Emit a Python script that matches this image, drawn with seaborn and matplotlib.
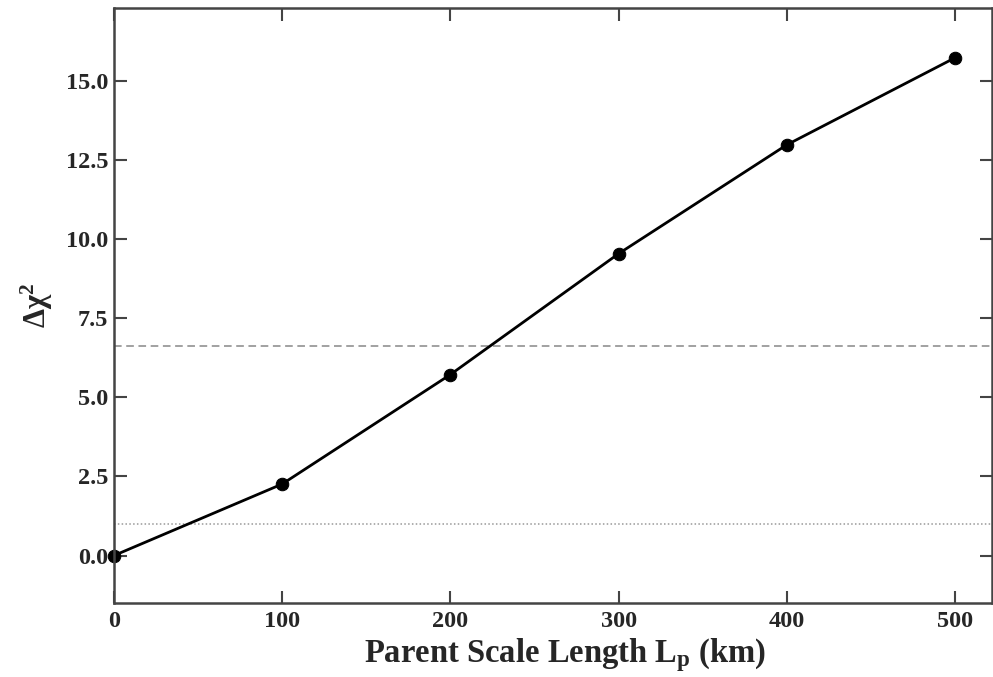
import matplotlib
matplotlib.use("Agg")
import matplotlib.pyplot as plt
import seaborn as sns
import pandas as pd

# Data
scale_length = [0, 100, 200, 300, 400, 500]
delta_chi2 = [0.0, 2.26, 5.72, 9.54, 12.98, 15.73]
dashed_level = 6.63
dotted_level = 1.0
x_ticks = [0, 100, 200, 300, 400, 500]
y_ticks = [0.0, 2.5, 5.0, 7.5, 10.0, 12.5, 15.0]

sns.set_style("ticks")
plt.rcParams['font.family'] = ['Liberation Serif', 'DejaVu Serif']
plt.rcParams['mathtext.fontset'] = 'custom'
plt.rcParams['mathtext.rm'] = 'Liberation Serif:bold'
plt.rcParams['mathtext.it'] = 'Liberation Serif:bold'
plt.rcParams['mathtext.bf'] = 'Liberation Serif:bold'

df = pd.DataFrame({"L": scale_length, "chi": delta_chi2})

fig = plt.figure(figsize=(9.93, 6.77), dpi=100)
ax = fig.add_axes([0.1148, 0.1093, 0.8842, 0.8787])

ax.axhline(dashed_level, color="#888888", lw=1.1, ls=(0, (5, 3)))
ax.axhline(dotted_level, color="#999999", lw=1.1, ls=(0, (1, 1.5)))

sns.lineplot(data=df, x="L", y="chi", ax=ax, color="black", lw=2,
             marker="o", markersize=9, markeredgecolor="black", clip_on=False)

ax.set_xlim(0, 522)
ax.set_ylim(-1.5, 17.3)
ax.set_xticks(x_ticks)
ax.set_yticks(y_ticks)
ax.set_xticklabels([str(v) for v in x_ticks], fontsize=17.5, fontweight="bold")
ax.set_yticklabels([f"{v:.1f}" for v in y_ticks], fontsize=17.5, fontweight="bold")
ax.tick_params(direction="in", length=9, width=1.5, top=True, right=True,
               color="#444444")
ax.tick_params(axis="y", pad=4)
ax.tick_params(axis="x", pad=6)
for s in ax.spines.values():
    s.set_linewidth(1.8)
    s.set_color("#444444")

ax.set_xlabel(r"Parent Scale Length L$_\mathbf{p}$ (km)", fontsize=23.5,
              fontweight="bold")
ax.xaxis.set_label_coords(0.514, -0.055)
ax.set_ylabel(r"$\mathbf{\Delta\chi^2}$", fontsize=22, fontweight="bold", labelpad=8)

fig.savefig("out.png", dpi=100)
